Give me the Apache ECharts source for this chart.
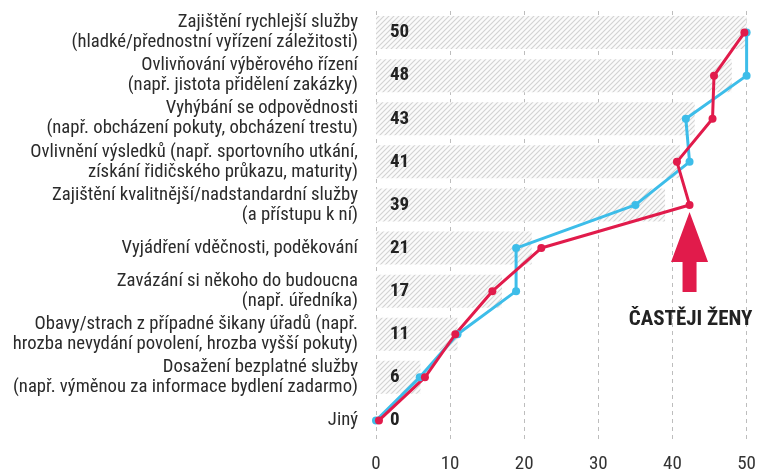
<!DOCTYPE html>
<html style="height: 100%">
<head>
    <meta charset="utf-8">
    <title>Úplatky – důvody</title>
    <script src="https://cdn.jsdelivr.net/npm/echarts@6/dist/echarts.min.js"></script>
</head>
<body style="height: 100%; margin: 0; background: #fff">
    <div id="main" style="width: 759px; height: 474px"></div>
    <script type="text/javascript">
        // kategorie shora dolů
        var categories = [
            'Zajištění rychlejší služby\n(hladké/přednostní vyřízení záležitosti)',
            'Ovlivňování výběrového řízení\n(např. jistota přidělení zakázky)',
            'Vyhýbání se odpovědnosti\n(např. obcházení pokuty, obcházení trestu)',
            'Ovlivnění výsledků (např. sportovního utkání,\nzískání řidičského průkazu, maturity)',
            'Zajištění kvalitnější/nadstandardní služby\n(a přístupu k ní)',
            'Vyjádření vděčnosti, poděkování',
            'Zavázání si někoho do budoucna\n(např. úředníka)',
            'Obavy/strach z případné šikany úřadů (např.\nhrozba nevydání povolení, hrozba vyšší pokuty)',
            'Dosažení bezplatné služby\n(např. výměnou za informace bydlení zadarmo)',
            'Jiný'
        ];
        var celkem = [50, 48, 43, 41, 39, 21, 17, 11, 6, 0];
        var muzi = [50, 50, 41.8, 42.3, 35, 18.9, 18.9, 11, 5.9, 0];
        var zeny = [49.7, 45.6, 45.4, 40.6, 42.3, 22.3, 15.7, 10.7, 6.6, 0.4];
        var xTicks = [0, 10, 20, 30, 40, 50];

        var FONT = '"Liberation Sans Narrow", "Roboto Condensed", "Liberation Sans", sans-serif';

        // šrafování sloupců
        var hatch = document.createElement('canvas');
        hatch.width = 5;
        hatch.height = 5;
        var hc = hatch.getContext('2d');
        hc.fillStyle = '#fbfbfb';
        hc.fillRect(0, 0, 5, 5);
        hc.strokeStyle = '#d2d2d2';
        hc.lineWidth = 1.1;
        hc.beginPath();
        hc.moveTo(-1, 6); hc.lineTo(6, -1);
        hc.moveTo(-1, 1); hc.lineTo(1, -1);
        hc.moveTo(4, 6); hc.lineTo(6, 4);
        hc.stroke();

        var myChart = echarts.init(document.getElementById('main'));

        var option = {
            animation: false,
            textStyle: { fontFamily: FONT },
            grid: { left: 376, right: 12, top: 11, bottom: 27 },
            xAxis: {
                type: 'value',
                min: xTicks[0],
                max: xTicks[xTicks.length - 1],
                interval: 10,
                axisLine: { show: false },
                axisTick: { show: false },
                splitLine: { lineStyle: { color: '#bdbdbd', type: [4, 4], width: 1 } },
                axisLabel: { fontSize: 19, color: '#333', margin: 13, fontFamily: FONT }
            },
            yAxis: {
                type: 'category',
                inverse: true,
                data: categories,
                axisLine: { show: false },
                axisTick: { show: false },
                axisLabel: {
                    fontSize: 18.7, lineHeight: 20, color: '#2b2b2b', margin: 18,
                    align: 'right', fontFamily: FONT
                }
            },
            series: [
                {
                    name: 'celkem',
                    type: 'bar',
                    data: celkem,
                    barWidth: 33,
                    itemStyle: { color: { image: hatch, repeat: 'repeat' } },
                    label: {
                        show: true, position: 'insideLeft', distance: 14,
                        fontSize: 19, fontWeight: 'bold', color: '#222', fontFamily: FONT
                    },
                    silent: true
                },
                {
                    name: 'muži',
                    type: 'line',
                    data: muzi,
                    symbol: 'circle',
                    symbolSize: 8,
                    clip: false,
                    color: '#3dbde9',
                    lineStyle: { width: 3 }
                },
                {
                    name: 'ženy',
                    type: 'line',
                    data: zeny,
                    symbol: 'circle',
                    symbolSize: 8,
                    clip: false,
                    color: '#e11b4b',
                    lineStyle: { width: 3 }
                }
            ]
        };

        myChart.setOption(option);

        // šipka a popisek pod bodem žen u "kvalitnější služby"
        var p = myChart.convertToPixel({ seriesIndex: 2 }, [zeny[4], 4]);
        myChart.setOption({
            graphic: [
                {
                    type: 'polygon',
                    x: p[0], y: p[1] + 7,
                    shape: { points: [[0, 0], [18.5, 50], [7, 50], [7, 80], [-7, 80], [-7, 50], [-18.5, 50]] },
                    style: { fill: '#e11b4b' }
                },
                {
                    type: 'text',
                    x: p[0] + 1, y: p[1] + 115,
                    style: {
                        text: 'ČASTĚJI ŽENY', fill: '#222', font: 'bold 21px ' + FONT,
                        textAlign: 'center', textVerticalAlign: 'middle'
                    }
                }
            ]
        });
    </script>
</body>
</html>
